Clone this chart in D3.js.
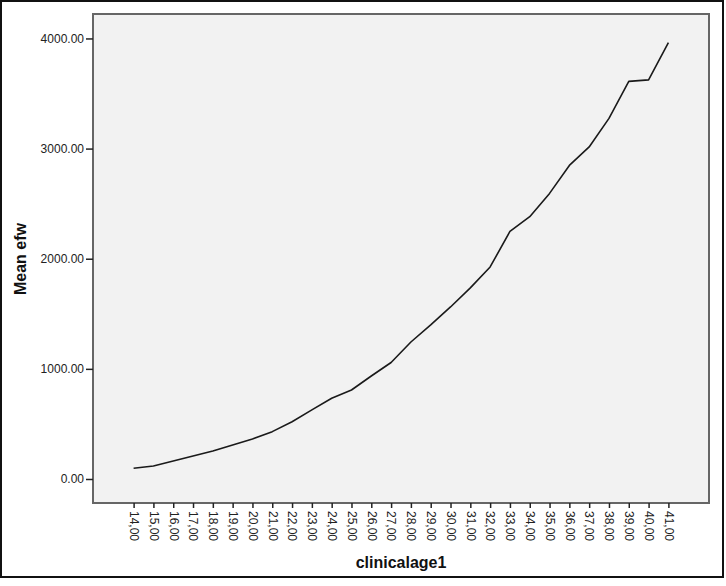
<!DOCTYPE html>
<html>
<head>
<meta charset="utf-8">
<script src="https://cdn.jsdelivr.net/npm/d3@7"></script>
<style>
  body { margin: 0; background: #fff; }
  svg { display: block; font-family: Arial, 'Liberation Sans', sans-serif; }
  .tick text { fill: #222; font-size: 12px; }
  .axis-title { font-weight: bold; font-size: 16px; fill: #111; }
</style>
</head>
<body>
<div id="chart"></div>
<script>
// clinical age (weeks) and mean estimated fetal weight
const ages = [14, 15, 16, 17, 18, 19, 20, 21, 22, 23, 24, 25, 26, 27,
  28, 29, 30, 31, 32, 33, 34, 35, 36, 37, 38, 39, 40, 41];
const meanEfw = [97, 118, 163, 209, 254, 309, 363, 430, 520, 627, 733, 808, 935, 1058,
  1244, 1399, 1562, 1735, 1925, 2248, 2382, 2593, 2847, 3015, 3274, 3610, 3624, 3963];
const yTicks = [0, 1000, 2000, 3000, 4000];

const W = 726, H = 586;
const plot = { left: 93, top: 14, right: 709, bottom: 503 };

const svg = d3.select('#chart').append('svg').attr('width', W).attr('height', H);

// outer frame
svg.append('rect')
  .attr('x', 1).attr('y', 1).attr('width', 722).attr('height', 576)
  .attr('fill', '#fff').attr('stroke', '#111').attr('stroke-width', 2);

// plot background
svg.append('rect')
  .attr('x', plot.left).attr('y', plot.top)
  .attr('width', plot.right - plot.left).attr('height', plot.bottom - plot.top)
  .attr('fill', '#f2f2f2').attr('stroke', '#666').attr('stroke-width', 2);

const x = d3.scalePoint()
  .domain(ages)
  .range([plot.left, plot.right])
  .padding(2.05);

const y = d3.scaleLinear()
  .domain([-218, 4222])
  .range([plot.bottom, plot.top]);

// y axis
const yAxis = svg.append('g')
  .attr('transform', `translate(${plot.left},0)`)
  .call(d3.axisLeft(y).tickValues(yTicks).tickFormat(d3.format('.2f')).tickSize(7).tickSizeOuter(0));
yAxis.select('.domain').remove();
yAxis.selectAll('.tick line').attr('stroke', '#222').attr('stroke-width', 1.5);
yAxis.selectAll('.tick text').attr('x', -9);

// x axis
const xAxis = svg.append('g')
  .attr('transform', `translate(0,${plot.bottom})`)
  .call(d3.axisBottom(x).tickFormat(d => `${d},00`).tickSize(5).tickSizeOuter(0));
xAxis.select('.domain').remove();
xAxis.selectAll('.tick line').attr('stroke', '#222').attr('stroke-width', 1.5);
xAxis.selectAll('.tick text')
  .attr('transform', 'rotate(90)')
  .attr('x', 8).attr('y', 0).attr('dy', '0.35em')
  .attr('text-anchor', 'start');

// line
const line = d3.line()
  .x((d, i) => x(ages[i]))
  .y(d => y(d));

svg.append('path')
  .datum(meanEfw)
  .attr('fill', 'none')
  .attr('stroke', '#1a1a1a')
  .attr('stroke-width', 1.6)
  .attr('stroke-linejoin', 'round')
  .attr('d', line);

// titles
svg.append('text')
  .attr('class', 'axis-title')
  .attr('x', (plot.left + plot.right) / 2 + 0)
  .attr('y', 568)
  .attr('text-anchor', 'middle')
  .text('clinicalage1');

svg.append('text')
  .attr('class', 'axis-title')
  .attr('transform', 'translate(26,259) rotate(-90)')
  .attr('text-anchor', 'middle')
  .text('Mean efw');
</script>
</body>
</html>
